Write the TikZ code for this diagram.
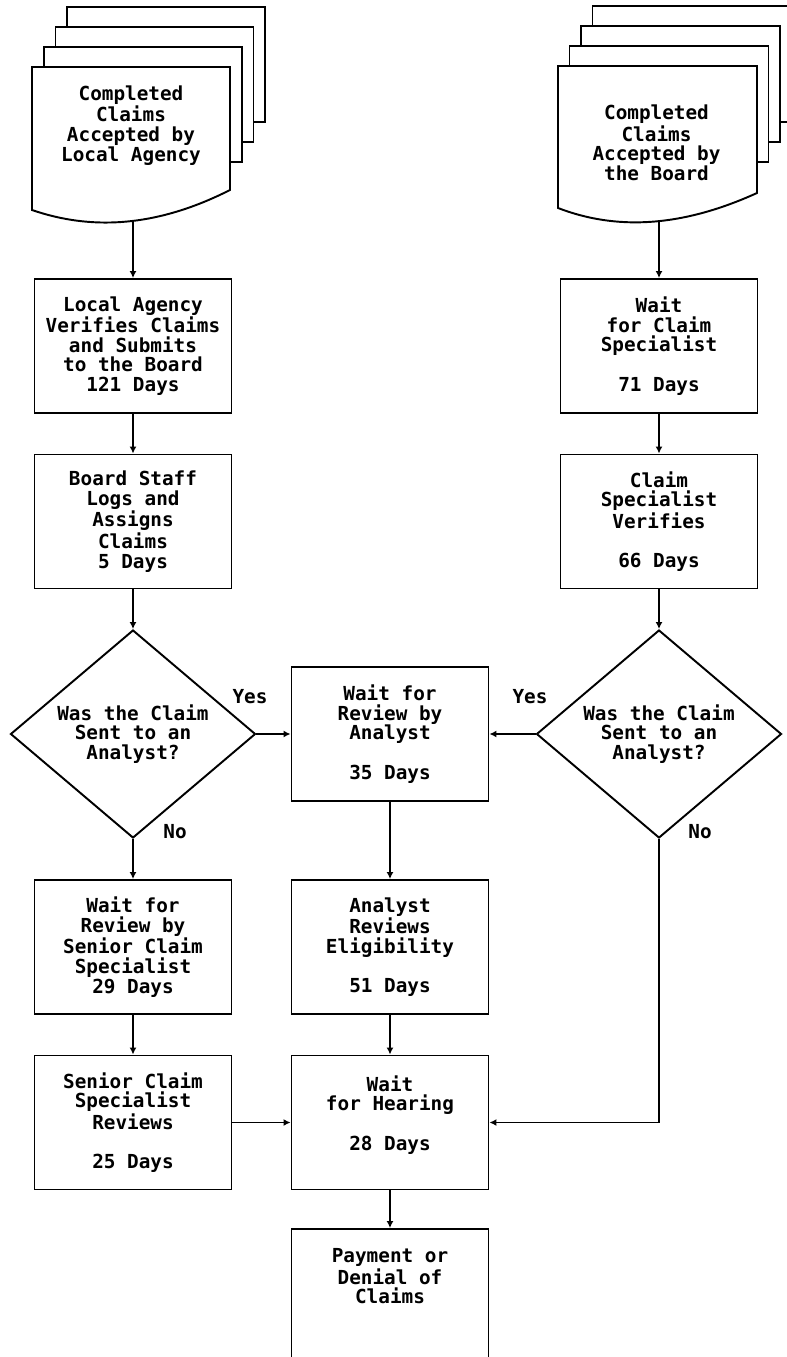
\documentclass[tikz,border=0pt]{standalone}
\usepackage{fontspec}
\setmonofont{DejaVu Sans Mono}
\usepackage{tikz}
\usetikzlibrary{arrows.meta, positioning, shapes.geometric}

\begin{document}
\begin{tikzpicture}[
    >={Latex[length=1.4mm, width=1.4mm]},
    line width=1.1pt,
    every node/.style={font=\ttfamily\bfseries\fontsize{11}{11.2}\selectfont},
    box/.style={draw, fill=white, minimum width=3.94cm, minimum height=2.68cm, inner sep=0pt, align=center},
    decision/.style={draw, diamond, aspect=1.18, minimum width=4.9cm, minimum height=4.16cm, inner sep=0pt, align=center},
    sheet/.style={draw, fill=white},
    doctext/.style={align=center},
    answer/.style={inner sep=1pt},
]
    \useasboundingbox (0,0) rectangle (15.74,-27.14);
    \clip (0,0) rectangle (15.74,-27.14);

    % claims accepted by local agency
    \foreach \k in {3,2,1}
        \draw[sheet] (0.64+0.235*\k, -1.34+0.4*\k) rectangle (4.60+0.235*\k, -3.64+0.4*\k);
    \draw[sheet] (0.64,-1.34) -- (4.60,-1.34) -- (4.60,-3.80)
        .. controls (3.10,-4.56) and (1.80,-4.60) .. (0.64,-4.20) -- cycle;
    \node[doctext] (ldoc) at (2.62,-2.51) {Completed\\Claims\\Accepted by\\Local Agency};
    \coordinate (ldoc-b) at (2.66,-4.43);

    % claims accepted by the board
    \foreach \k in {3,2,1}
        \draw[sheet] (11.16+0.23*\k, -1.32+0.4*\k) rectangle (15.14+0.23*\k, -3.64+0.4*\k);
    \draw[sheet] (11.16,-1.32) -- (15.14,-1.32) -- (15.14,-3.86)
        .. controls (13.60,-4.56) and (12.30,-4.60) .. (11.16,-4.16) -- cycle;
    \node[doctext] (rdoc) at (13.13,-2.86) {Completed\\Claims\\Accepted by\\the Board};
    \coordinate (rdoc-b) at (13.18,-4.43);

    % left column
    \node[box] (lverify) at (2.66,-6.92) {Local Agency\\Verifies Claims\\and Submits\\to the Board\\121 Days};
    \node[box] (lstaff) at (2.66,-10.43) {Board Staff\\Logs and\\Assigns\\Claims\\5 Days};
    \node[decision] (ldecide) at (2.66,-14.68) {Was the Claim\\Sent to an\\Analyst?};
    \node[box] (lwait) at (2.66,-18.94) {Wait for\\Review by\\Senior Claim\\Specialist\\29 Days};
    \node[box] (lsenior) at (2.66,-22.45) {Senior Claim\\Specialist\\Reviews\\~\\25 Days};

    % middle column
    \node[box] (mwait) at (7.80,-14.68) {Wait for\\Review by\\Analyst\\~\\35 Days};
    \node[box] (manalyst) at (7.80,-18.94) {Analyst\\Reviews\\Eligibility\\~\\51 Days};
    \node[box] (mhearing) at (7.80,-22.45) {Wait\\for Hearing\\~\\28 Days\\~};
    \node[box] (mpay) at (7.80,-25.92) {Payment or\\Denial of\\Claims\\~\\~};

    % right column
    \node[box] (rwait) at (13.18,-6.92) {Wait\\for Claim\\Specialist\\~\\71 Days};
    \node[box] (rverify) at (13.18,-10.43) {Claim\\Specialist\\Verifies\\~\\66 Days};
    \node[decision] (rdecide) at (13.18,-14.68) {Was the Claim\\Sent to an\\Analyst?};

    % answers
    \node[answer] (lyes) at (5.0,-13.94) {Yes};
    \node[answer] (lno) at (3.5,-16.64) {No};
    \node[answer] (ryes) at (10.6,-13.94) {Yes};
    \node[answer] (rno) at (14.0,-16.64) {No};

    \draw[->] (ldoc-b) -- (lverify);
    \draw[->] (lverify) -- (lstaff);
    \draw[->] (lstaff) -- (ldecide);
    \draw[->] (ldecide) -- (lwait);
    \draw[->] (ldecide) -- (mwait);
    \draw[->] (lwait) -- (lsenior);
    \draw[->] (lsenior) -- (mhearing);

    \draw[->] (rdoc-b) -- (rwait);
    \draw[->] (rwait) -- (rverify);
    \draw[->] (rverify) -- (rdecide);
    \draw[->] (rdecide) -- (mwait);
    \draw[->] (rdecide.south) |- (mhearing.east);

    \draw[->] (mwait) -- (manalyst);
    \draw[->] (manalyst) -- (mhearing);
    \draw[->] (mhearing) -- (mpay);
\end{tikzpicture}
\end{document}
